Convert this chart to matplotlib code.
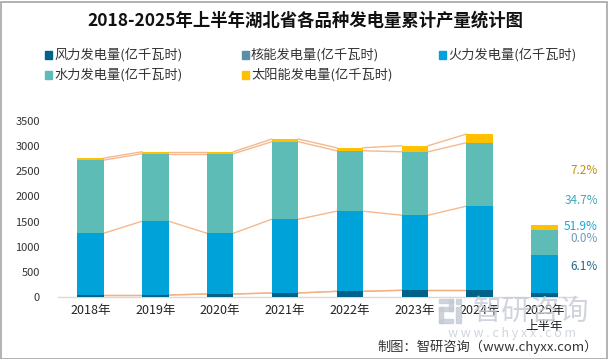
import matplotlib
matplotlib.use("Agg")
import matplotlib.pyplot as plt
import numpy as np
from matplotlib.patches import Rectangle

plt.rcParams['font.family'] = ['Noto Sans CJK SC', 'DejaVu Sans']

categories = ["2018年", "2019年", "2020年", "2021年", "2022年", "2023年", "2024年", "2025年\n上半年"]
series_names = ["风力发电量(亿千瓦时)", "核能发电量(亿千瓦时)", "火力发电量(亿千瓦时)",
                "水力发电量(亿千瓦时)", "太阳能发电量(亿千瓦时)"]
wind = [40, 40, 60, 80, 113, 133, 133, 87]
nuclear = [0, 0, 0, 0, 0, 0, 0, 0]
thermal = [1228, 1467, 1208, 1467, 1593, 1494, 1673, 744]
hydro = [1454, 1342, 1581, 1541, 1202, 1261, 1262, 498]
solar = [40, 39, 39, 53, 60, 120, 172, 103]
share_labels = ["6.1%", "0.0%", "51.9%", "34.7%", "7.2%"]
yticks = [0, 500, 1000, 1500, 2000, 2500, 3000, 3500]

colors = ["#006289", "#5B8FA8", "#00A2DA", "#5DBCB5", "#FFC000"]
label_colors = ["#1F6A8E", "#6E9DB8", "#1AA3DD", "#3FA8B8", "#C09000"]

W, H = 609, 359
fig = plt.figure(figsize=(W / 100, H / 100), dpi=100)

# watermark (behind everything)
wm = "#C5CBD5"
def px(xp, yp):
    return xp / W, 1 - yp / H
for (rx, ry, rw, rh) in [(439, 299, 14, 4), (449, 299, 4, 12), (439, 307, 14, 4), (439, 307, 4, 16),
                         (439, 319, 14, 4), (456, 299, 5, 5), (456, 307, 5, 16)]:
    fig.patches.append(Rectangle(px(rx, ry + rh), rw / W, rh / H, transform=fig.transFigure,
                                 color=wm, alpha=0.8, figure=fig, zorder=0))
fig.text(531 / W, 1 - 312 / H, "智研咨询", ha="center", va="center", fontsize=21,
         color=wm, alpha=0.8, zorder=0)
fig.text(512 / W, 1 - 333 / H, "w w w . c h y x x . c o m", ha="center", va="center", fontsize=9,
         color=wm, alpha=0.8, zorder=0)

ax = fig.add_axes([58 / W, (H - 297) / H, (577 - 58) / W, (297 - 121) / H])
ax.patch.set_alpha(0)

data = [wind, nuclear, thermal, hydro, solar]
x = np.arange(len(categories))
bw = 0.41
bottom = np.zeros(len(categories))
cums = []
for vals, c in zip(data, colors):
    v = np.array(vals, dtype=float)
    ax.bar(x, v, bw, bottom=bottom, color=c, zorder=3, linewidth=0)
    bottom = bottom + v
    cums.append(bottom.copy())

# series lines (Excel style)
for cum in cums:
    for i in range(len(categories) - 2):
        ax.plot([x[i] + bw / 2, x[i + 1] - bw / 2], [cum[i], cum[i + 1]],
                color="#F4B183", lw=1.0, zorder=2, alpha=0.9)

ax.set_xlim(-0.5, len(categories) - 0.5)
ax.set_ylim(0, 3500)
ax.set_yticks(yticks)
ax.set_yticklabels([str(t) for t in yticks], fontsize=8, color="#333333")
ax.set_xticks(x)
ax.set_xticklabels(categories, fontsize=9, color="#222222", linespacing=1.3)
ax.tick_params(axis='both', length=0, pad=5)
ax.tick_params(axis='y', pad=13)
for s in ["top", "right", "left"]:
    ax.spines[s].set_visible(False)
ax.spines["bottom"].set_color("#D9D9D9")
ax.spines["bottom"].set_linewidth(1)

# right side share labels
label_y = [267, 239, 226, 200, 171]
for lab, yy, c in zip(share_labels, label_y, label_colors):
    fig.text(598 / W, 1 - yy / H, lab, ha="right", va="center", fontsize=8.5, color=c)

# title
fig.text(305 / W, 1 - 21 / H, "2018-2025年上半年湖北省各品种发电量累计产量统计图",
         ha="center", va="center", fontsize=12.5, fontweight="bold", color="#111111")

# legend
leg_pos = [(45, 55), (242, 55), (439, 55), (45, 75), (242, 75)]
for (lx, ly), name, c in zip(leg_pos, series_names, colors):
    fig.patches.append(Rectangle((lx / W, 1 - (ly + 3.5) / H), 7 / W, 7 / H,
                                 transform=fig.transFigure, color=c, figure=fig))
    fig.text((lx + 9) / W, 1 - ly / H, name, ha="left", va="center", fontsize=9.5, color="#333333")

# source
fig.text(598 / W, 1 - 347 / H, "制图：智研咨询（www.chyxx.com）", ha="right", va="center",
         fontsize=9.5, color="#333333")

# figure border
fig.patches.append(Rectangle((0.5 / W, 0.5 / H), (W - 3) / W, (H - 2) / H, transform=fig.transFigure,
                             fill=False, edgecolor="#A6A6A6", lw=1.2, figure=fig))

fig.savefig("out.png", dpi=100)
